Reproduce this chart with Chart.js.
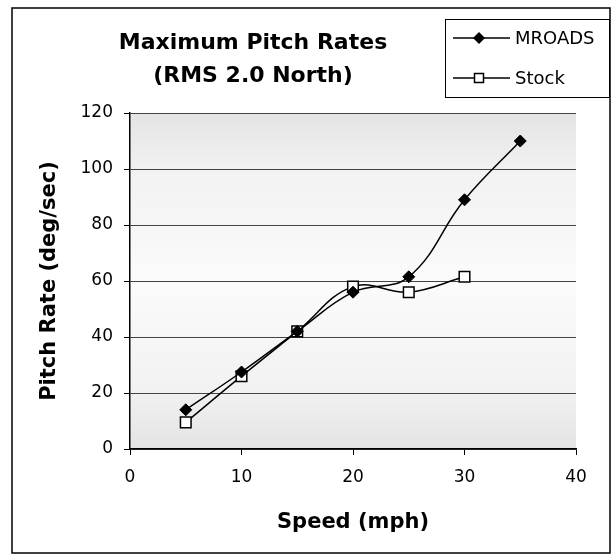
<!DOCTYPE html>
<html>
<head>
<meta charset="utf-8">
<script src="https://cdn.jsdelivr.net/npm/chart.js@4.4.0/dist/chart.umd.min.js"></script>
<style>
  html, body { margin: 0; padding: 0; background: #fff; }
  #wrap { width: 616px; height: 560px; position: relative; }
</style>
</head>
<body>
<div id="wrap"><canvas id="pitchChart"></canvas></div>
<script>
// values
const titleLines = ['Maximum Pitch Rates', '(RMS 2.0 North)'];
const mroadsSpeed = [5, 10, 15, 20, 25, 30, 35];
const mroadsRate = [14, 27.5, 42, 56, 61.5, 89, 110];
const stockSpeed = [5, 10, 15, 20, 25, 30];
const stockRate = [9.5, 26, 42, 58, 56, 61.5];
const seriesNames = ['MROADS', 'Stock'];
const xTitle = 'Speed (mph)';
const yTitle = 'Pitch Rate (deg/sec)';

function toPoints(xs, ys) {
    return xs.map(function(x, i) { return { x: x, y: ys[i] }; });
}

Chart.defaults.font.family = "'DejaVu Sans', sans-serif";
Chart.defaults.color = '#000';

// plot fill, outer frame, title and boxed legend
const decorations = {
    id: 'decorations',
    beforeDraw(chart) {
        const { ctx, chartArea: a } = chart;
        ctx.save();
        const g = ctx.createLinearGradient(0, a.top, 0, a.bottom);
        g.addColorStop(0, '#e4e4e4');
        g.addColorStop(0.18, '#f2f2f2');
        g.addColorStop(0.5, '#fbfbfb');
        g.addColorStop(0.82, '#f2f2f2');
        g.addColorStop(1, '#e4e4e4');
        ctx.fillStyle = g;
        ctx.fillRect(a.left, a.top, a.right - a.left, a.bottom - a.top);
        ctx.restore();
    },
    afterDraw(chart) {
        const ctx = chart.ctx;
        ctx.save();
        // frame
        ctx.strokeStyle = '#000';
        ctx.lineWidth = 1.5;
        ctx.strokeRect(12, 8, 598, 545);

        // title
        ctx.fillStyle = '#000';
        ctx.font = "bold 22px 'DejaVu Sans', sans-serif";
        ctx.textAlign = 'center';
        ctx.textBaseline = 'middle';
        titleLines.forEach(function(t, i) {
            ctx.fillText(t, 253, 43 + i * 33);
        });

        // legend box
        ctx.lineWidth = 1;
        ctx.strokeRect(445.5, 19.5, 164, 78);
        chart.data.datasets.forEach(function(ds, i) {
            const y = 38 + i * 40;
            ctx.strokeStyle = '#000';
            ctx.lineWidth = 1.5;
            ctx.beginPath();
            ctx.moveTo(453, y);
            ctx.lineTo(510, y);
            ctx.stroke();
            ctx.beginPath();
            if (ds.pointStyle === 'rectRot') {
                ctx.moveTo(479, y - 6);
                ctx.lineTo(485, y);
                ctx.lineTo(479, y + 6);
                ctx.lineTo(473, y);
                ctx.closePath();
                ctx.fillStyle = '#000';
                ctx.fill();
            } else {
                ctx.rect(474.5, y - 4.5, 9, 9);
                ctx.fillStyle = '#fff';
                ctx.fill();
                ctx.stroke();
            }
            ctx.fillStyle = '#000';
            ctx.font = "18px 'DejaVu Sans', sans-serif";
            ctx.textAlign = 'left';
            ctx.fillText(ds.label, 515, y + 1);
        });
        ctx.restore();
    }
};

const ctx = document.getElementById('pitchChart').getContext('2d');

new Chart(ctx, {
    type: 'line',
    data: {
        datasets: [
            {
                label: seriesNames[0],
                data: toPoints(mroadsSpeed, mroadsRate),
                borderColor: '#000',
                backgroundColor: '#000',
                borderWidth: 1.5,
                pointStyle: 'rectRot',
                pointRadius: 6,
                pointBorderWidth: 1,
                tension: 0.4
            },
            {
                label: seriesNames[1],
                data: toPoints(stockSpeed, stockRate),
                borderColor: '#000',
                backgroundColor: '#fff',
                borderWidth: 1.5,
                pointStyle: 'rect',
                pointRadius: 7.5,
                pointBorderWidth: 1.5,
                tension: 0.4
            }
        ]
    },
    options: {
        responsive: true,
        maintainAspectRatio: false,
        animation: false,
        layout: { padding: { left: 0, right: 40, top: 113, bottom: 0 } },
        plugins: {
            legend: { display: false },
            title: { display: false },
            tooltip: { enabled: false }
        },
        scales: {
            x: {
                type: 'linear',
                min: 0,
                max: 40,
                ticks: { stepSize: 10, padding: 12, font: { size: 17 } },
                grid: { drawOnChartArea: false, drawTicks: true, tickLength: 6, color: '#000' },
                border: { color: '#000', width: 1.5 },
                title: {
                    display: true,
                    text: xTitle,
                    font: { size: 21, weight: 'bold' },
                    padding: { top: 0, bottom: 25 }
                },
                afterFit(scale) { scale.height = 111; }
            },
            y: {
                min: 0,
                max: 120,
                ticks: { stepSize: 20, padding: 11, font: { size: 17 } },
                grid: { color: '#444', tickColor: '#000', tickLength: 6, lineWidth: 1 },
                border: { color: '#000', width: 1.5 },
                title: {
                    display: true,
                    text: yTitle,
                    font: { size: 21, weight: 'bold' },
                    padding: { top: 37, bottom: 0 }
                },
                afterFit(scale) { scale.width = 130; }
            }
        }
    },
    plugins: [decorations]
});
</script>
</body>
</html>
